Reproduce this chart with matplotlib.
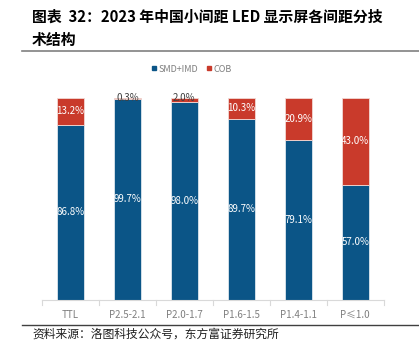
import matplotlib
matplotlib.use('Agg')
import matplotlib.pyplot as plt
from matplotlib.lines import Line2D

plt.rcParams['font.family'] = ['Noto Sans CJK SC', 'DejaVu Sans']

# Data
categories = ['TTL', 'P2.5-2.1', 'P2.0-1.7', 'P1.6-1.5', 'P1.4-1.1', 'P≤1.0']
smd_imd = [86.8, 99.7, 98.0, 89.7, 79.1, 57.0]
cob = [13.2, 0.3, 2.0, 10.3, 20.9, 43.0]
series_names = ['SMD+IMD', 'COB']

blue = '#0B5587'
red = '#C93A2B'

fig = plt.figure(figsize=(4.19, 3.6), dpi=100)
ax = fig.add_axes([0.100, 0.1667, 0.816, 0.561])

x = range(len(categories))
ax.bar(x, smd_imd, width=0.47, color=blue, edgecolor='#DDE6EE', linewidth=0.6)
ax.bar(x, cob, width=0.47, bottom=smd_imd, color=red, edgecolor='#F2D8D4', linewidth=0.6)

# value labels
for i in x:
    ax.text(i, smd_imd[i] / 2, '%.1f%%' % smd_imd[i], ha='center', va='center',
            color='white', fontsize=7)
    if cob[i] > 5:
        ax.text(i, smd_imd[i] + cob[i] / 2, '%.1f%%' % cob[i], ha='center',
                va='center', color='white', fontsize=7)
    else:
        ax.text(i, 100, '%.1f%%' % cob[i], ha='center', va='center',
                color='#404040', fontsize=7)

ax.set_xlim(-0.5, len(categories) - 0.5)
ax.set_ylim(0, 100)
ax.set_yticks([])
for s in ['top', 'right', 'left']:
    ax.spines[s].set_visible(False)
ax.spines['bottom'].set_color('#D9D9D9')
ax.spines['bottom'].set_linewidth(0.8)
ax.set_xticks(list(x))
ax.set_xticklabels(categories, fontsize=7, color='#7F7F7F')
ax.tick_params(axis='x', length=0, pad=7)
# boundary ticks
for b in [i + 0.5 for i in range(-1, len(categories))]:
    ax.plot([b, b], [0, -2.5], color='#D9D9D9', lw=0.8, clip_on=False)

# legend
handles = [Line2D([], [], marker='s', ls='', color=blue, markersize=3.5),
           Line2D([], [], marker='s', ls='', color=red, markersize=3.5)]
fig.legend(handles, series_names, loc='center', bbox_to_anchor=(0.455, 0.808),
           ncol=2, frameon=False, fontsize=6.5, labelcolor='#7F7F7F',
           handletextpad=0.1, columnspacing=0.8, handlelength=0.8)

# title and source
fig.text(0.076, 0.953, '图表  32：2023 年中国小间距 LED 显示屏各间距分技',
         fontsize=10.7, fontweight='bold', va='center', ha='left')
fig.text(0.076, 0.889, '术结构', fontsize=10.7, fontweight='bold', va='center', ha='left')
fig.add_artist(Line2D([0.053, 1.0], [0.858, 0.858], color='#808080', lw=1.2))
fig.add_artist(Line2D([0.053, 1.0], [0.097, 0.097], color='#404040', lw=1.0))
fig.text(0.078, 0.071, '资料来源：洛图科技公众号，东方富证券研究所', fontsize=8.5,
         va='center', ha='left', color='#202020')

fig.savefig('out.png', dpi=100)
